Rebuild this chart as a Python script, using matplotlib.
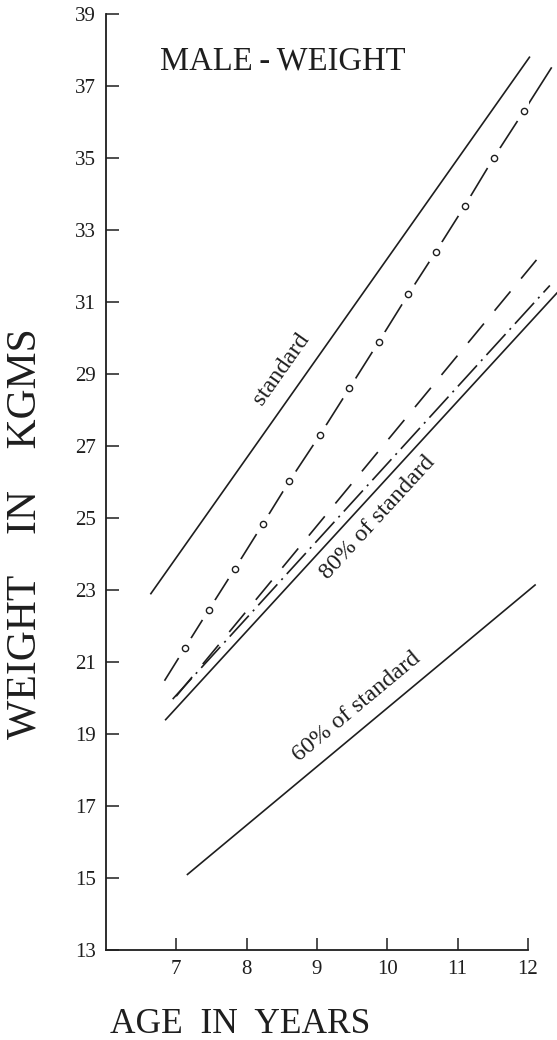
import numpy as np
import matplotlib.pyplot as plt

plt.rcParams['font.family'] = ['Liberation Serif', 'DejaVu Serif']

# Standard weight line (age, kg)
std_age = [6.64, 12.02]
std_wt = [22.9, 37.8]

# Dash-circle series: line ends plus the circled points
circ_line_age = [6.84, 12.33]
circ_line_wt = [20.5, 37.5]
circ_age = [7.12, 7.46, 7.83, 8.23, 8.61, 9.04, 9.46, 9.88, 10.30, 10.69, 11.10, 11.51, 11.94]
circ_wt = [21.38, 22.44, 23.58, 24.83, 26.03, 27.3, 28.6, 29.9, 31.22, 32.4, 33.67, 35.0, 36.3]

# Long-dash series
dash_age = [7.0, 12.12]
dash_wt = [20.05, 32.17]

# Dash-dot series
dashdot_age = [6.95, 12.31]
dashdot_wt = [19.97, 31.46]

# 80% of standard
p80_age = [6.85, 12.41]
p80_wt = [19.4, 31.25]

# 60% of standard
p60_age = [7.16, 12.1]
p60_wt = [15.1, 23.14]

x_ticks = [7, 8, 9, 10, 11, 12]
y_ticks = list(range(13, 40, 2))

ink = '#1e1e1e'
lw = 1.2

fig = plt.figure(figsize=(5.57, 10.4), dpi=100)
ax = fig.add_axes([0.190, 0.0865, 0.758, 0.9])

# standard
ax.plot(std_age, std_wt, color=ink, lw=lw, clip_on=False)

# dash-circle line: solid line broken by white halos round each circle
pts_age = [circ_line_age[0]] + circ_age + [circ_line_age[1]]
pts_wt = [circ_line_wt[0]] + circ_wt + [circ_line_wt[1]]
ax.plot(pts_age, pts_wt, color=ink, lw=lw, clip_on=False, zorder=2)
ax.plot(circ_age, circ_wt, ls='none', marker='o', ms=17, mfc='white', mec='none', zorder=3)
ax.plot(circ_age, circ_wt, ls='none', marker='o', ms=4.5, mfc='white', mec=ink, mew=1.0, zorder=4)

# long dashes
ax.plot(dash_age, dash_wt, color=ink, lw=lw, dashes=(15, 10), clip_on=False, zorder=5)

# dash-dot
ax.plot(dashdot_age, dashdot_wt, color=ink, lw=lw, dashes=(17, 3.6, 1.2, 3.6), clip_on=False, zorder=5)

# 80% and 60% of standard
ax.plot(p80_age, p80_wt, color=ink, lw=lw, clip_on=False, zorder=5)
ax.plot(p60_age, p60_wt, color=ink, lw=lw, clip_on=False, zorder=5)

ax.set_xlim(6, 12)
ax.set_ylim(13, 39)
ax.set_xticks(x_ticks)
ax.set_yticks(y_ticks)
ax.tick_params(direction='in', length=9, width=1.1, colors=ink, labelsize=15, pad=7)
for s in ['top', 'right']:
    ax.spines[s].set_visible(False)
for s in ['left', 'bottom']:
    ax.spines[s].set_color(ink)
    ax.spines[s].set_linewidth(1.3)


def slope_angle(xs, ys):
    p = ax.transData.transform(np.column_stack([xs, ys]))
    return np.degrees(np.arctan2(p[1, 1] - p[0, 1], p[1, 0] - p[0, 0]))


# labels along the lines
ax.text(8.5, 29.15, 'standard', rotation=slope_angle(std_age, std_wt), ha='center', va='center',
        fontsize=17.5, color=ink, rotation_mode='anchor')
ax.text(9.87, 25.0, '80% of standard', rotation=slope_angle(p80_age, p80_wt), ha='center', va='center',
        fontsize=17.5, color=ink, rotation_mode='anchor')
ax.text(9.57, 19.75, '60% of standard', rotation=slope_angle(p60_age, p60_wt), ha='center', va='center',
        fontsize=17.5, color=ink, rotation_mode='anchor')

ax.text(6.77, 37.7, 'MALE\u2009-\u2009WEIGHT', ha='left', va='center', fontsize=23.5, color=ink)

fig.text(0.045, 0.487, 'WEIGHT    IN    KGMS', rotation=90, ha='center', va='center', fontsize=30, color=ink)
fig.text(0.197, 0.0150, 'AGE  IN  YEARS', ha='left', va='center', fontsize=25.5, color=ink)

plt.savefig('out.png', dpi=100)
